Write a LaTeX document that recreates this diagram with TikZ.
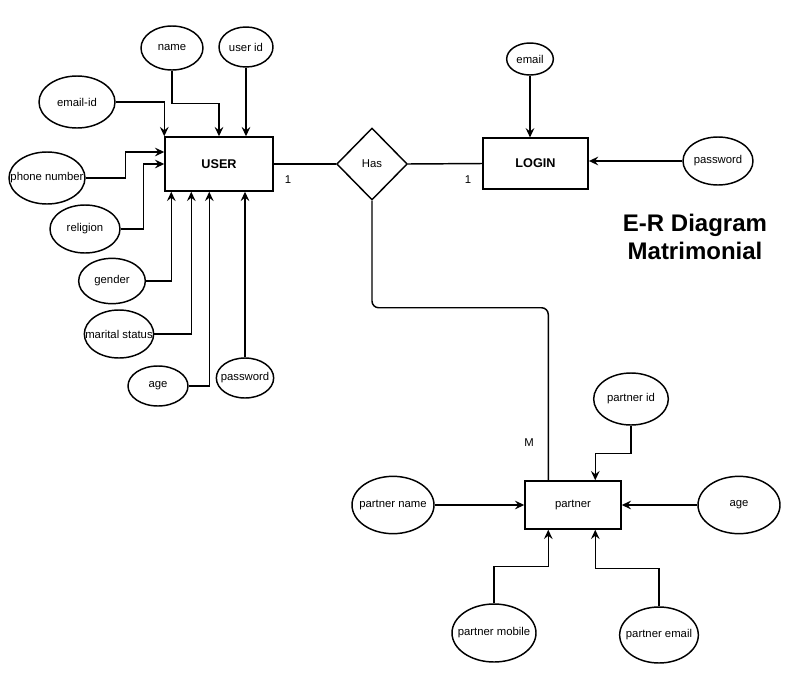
\documentclass[tikz,border=0pt]{standalone}
\usepackage{fontspec}
\setmainfont{Liberation Sans}
\usetikzlibrary{positioning,shapes.geometric,arrows.meta}
\newcommand{\lbl}[1]{\makebox[0pt]{#1}}

\begin{document}
\begin{tikzpicture}[x=0.75pt, y=-0.75pt, line width=1.1pt,
    >={Stealth[length=7pt,width=6.5pt,inset=2.5pt]},
    attr/.style 2 args={ellipse, draw, minimum width=#1, minimum height=#2, inner sep=0pt, font=\fontsize{8.5}{10}\selectfont},
    entity/.style 2 args={rectangle, draw, minimum width=#1, minimum height=#2, inner sep=0pt, font=\fontsize{8.5}{10}\selectfont},
    relation/.style={diamond, draw, minimum width=53pt, minimum height=54pt, inner sep=0pt, font=\fontsize{8.5}{10}\selectfont},
    card/.style={font=\fontsize{8.5}{10}\selectfont}]
        \useasboundingbox (0,0) rectangle (807,693);
        % entities and relation
        \node[entity={81pt}{40.5pt}] (user) at (219,164) {\fontsize{9.5}{10}\selectfont\textbf{USER}};
        \node[entity={79pt}{38pt}] (login) at (535.5,163.5) {\fontsize{9.5}{10}\selectfont\textbf{LOGIN}};
        \node[entity={72pt}{36pt}] (partner) at (573,505) {partner};
        \node[relation] (has) at (372,164) {Has};
        % user attributes
        \node[attr={46.5pt}{33pt}] (nm) at (172,48) {\lbl{name}};
        \node[attr={40.5pt}{30pt}] (uid) at (246,47) {\lbl{user id}};
        \node[attr={57pt}{39pt}] (emid) at (77,102) {\lbl{email-id}};
        \node[attr={57pt}{39pt}] (ph) at (47,178) {\lbl{phone number}};
        \node[attr={52.5pt}{36pt}] (rel) at (85,229) {\lbl{religion}};
        \node[attr={50pt}{34pt}] (gen) at (112,281) {\lbl{gender}};
        \node[attr={52pt}{36pt}] (mar) at (119,334) {\lbl{marital status}};
        \node[attr={45pt}{30pt}] (uage) at (158,386) {\lbl{age}};
        \node[attr={43pt}{30pt}] (upw) at (245,378) {\lbl{password}};
        % login attributes
        \node[attr={35pt}{24pt}] (em) at (530,59) {\lbl{email}};
        \node[attr={52.5pt}{36pt}] (lpw) at (718,161) {\lbl{password}};
        % partner attributes
        \node[attr={56pt}{39pt}] (pid) at (631,399) {\lbl{partner id}};
        \node[attr={61.5pt}{43pt}] (pnm) at (393,505) {\lbl{partner name}};
        \node[attr={61.5pt}{43pt}] (page) at (739,505) {\lbl{age}};
        \node[attr={63pt}{43.5pt}] (pmob) at (494,633) {\lbl{partner mobile}};
        \node[attr={59pt}{42pt}] (pem) at (659,635) {\lbl{partner email}};
        % cardinalities
        \node[card] (c1) at (288,180) {1};
        \node[card] (c2) at (468,180) {1};
        \node[card] (c3) at (529,443) {M};
        % title
        \node[align=center, font=\bfseries\fontsize{18}{20.5}\selectfont] (title) at (695,237) {E-R Diagram\\Matrimonial};

        % user connectors
        \draw[->] (nm.south) -- ++(0,33) -| (user.north);
        \draw[->] (uid.south) -- (uid.south |- user.north);
        \draw[->] (emid.east) -| (user.north west);
        \draw[->] (ph.east) -- ++(40,0) |- ([yshift=9pt]user.west);
        \draw[->] (rel.east) -- ++(23,0) |- (user.west);
        \draw[->] (gen.east) -| ([xshift=5.25pt]user.south west);
        \draw[->] (mar.east) -| ([xshift=20.25pt]user.south west);
        \draw[->] (uage.east) -| ([xshift=33.75pt]user.south west);
        \draw[->] (upw.north) -- (upw.north |- user.south);
        % relation
        \draw (user.east) -- (has.west);
        \draw (has.east) -- (login.west);
        \draw[rounded corners=5pt] (has.south) -- ++(0,107) -| ([xshift=18pt]partner.north west);
        % login connectors
        \draw[->] (em.south) -- (em.south |- login.north);
        \draw[->] (lpw.west) -- (lpw.west -| login.east);
        % partner connectors
        \draw[->] (pid.south) -- ++(0,28) -| ([xshift=53.25pt]partner.north west);
        \draw[->] (pnm.east) -- (partner.west);
        \draw[->] (page.west) -- (partner.east);
        \draw[->] (pmob.north) -- ++(0,-37) -| ([xshift=18pt]partner.south west);
        \draw[->] (pem.north) -- ++(0,-38) -| ([xshift=53.25pt]partner.south west);
\end{tikzpicture}
\end{document}
